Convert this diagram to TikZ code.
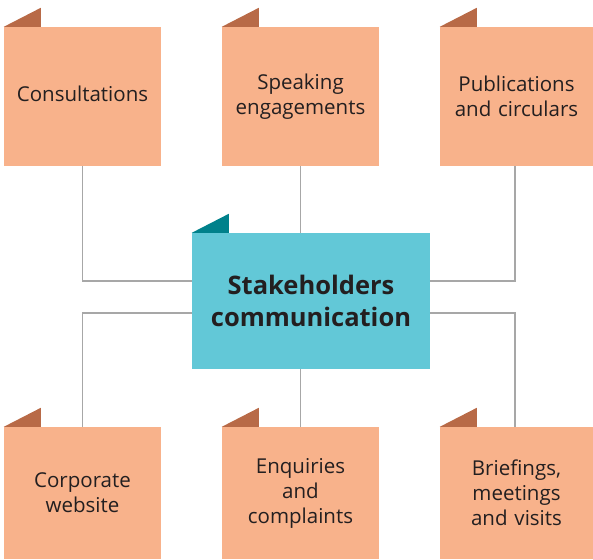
\documentclass[tikz,border=0pt]{standalone}
\usepackage{fontspec}
\setmainfont{Open Sans}
\definecolor{boxfill}{HTML}{F8B28B}
\definecolor{tabfill}{HTML}{B86A47}
\definecolor{hubfill}{HTML}{62C8D7}
\definecolor{hubtab}{HTML}{00818B}
\definecolor{txt}{HTML}{231F20}
\definecolor{conncol}{HTML}{A7A7A7}
\begin{document}
\begin{tikzpicture}[x=1pt,y=1pt,
  box/.style={fill=boxfill, minimum width=157pt, minimum height=139pt, inner sep=0pt,
    text width=150pt, align=center, font=\fontsize{20.5}{25}\selectfont, text=txt},
  lowbox/.style={box, minimum height=132pt},
  hubbox/.style={fill=hubfill, minimum width=238pt, minimum height=136pt, inner sep=0pt,
    text width=230pt, align=center, font=\fontsize{25.5}{32}\selectfont\bfseries, text=txt},
  tab/.style={fill=tabfill},
  hubtabst/.style={fill=hubtab},
  conn/.style={draw=conncol, line width=1.2pt}]
\useasboundingbox (0,0) rectangle (593,559);
\node[box] (c1) at (82.5,462.5) {\raisebox{5pt}{Consultations}};
\node[box] (c2) at (300.5,462.5) {Speaking\\engagements};
\node[box, minimum width=153pt] (c3) at (516.5,462.5) {Publications\\and circulars};
\node[lowbox] (b1) at (82.5,66) {Corporate\\website};
\node[lowbox] (b2) at (300.5,66) {Enquiries\\and\\complaints};
\node[lowbox, minimum width=153pt] (b3) at (516.5,66) {Briefings,\\meetings\\and visits};
\node[hubbox] (hub) at (311,258) {Stakeholders\\communication};
\draw[conn] (c1.south) |- ([yshift=20pt]hub.west);
\draw[conn] (c2.south) -- (c2.south |- hub.north);
\draw[conn] ([xshift=-1.5pt]c3.south) |- ([yshift=20pt]hub.east);
\draw[conn] ([yshift=-12pt]hub.west) -| (b1.north);
\draw[conn] (b2.north |- hub.south) -- (b2.north);
\draw[conn] ([yshift=-12pt]hub.east) -| ([xshift=-1.5pt]b3.north);
\fill[tab] (c1.north west) -- ++(37,0) -- ++(0,19) -- cycle;
\fill[tab] (c2.north west) -- ++(37,0) -- ++(0,19) -- cycle;
\fill[tab] (c3.north west) -- ++(37,0) -- ++(0,19) -- cycle;
\fill[tab] (b1.north west) -- ++(37,0) -- ++(0,19) -- cycle;
\fill[tab] (b2.north west) -- ++(37,0) -- ++(0,19) -- cycle;
\fill[tab] (b3.north west) -- ++(37,0) -- ++(0,19) -- cycle;
\fill[hubtabst] (hub.north west) -- ++(37,0) -- ++(0,19) -- cycle;
\end{tikzpicture}
\end{document}
